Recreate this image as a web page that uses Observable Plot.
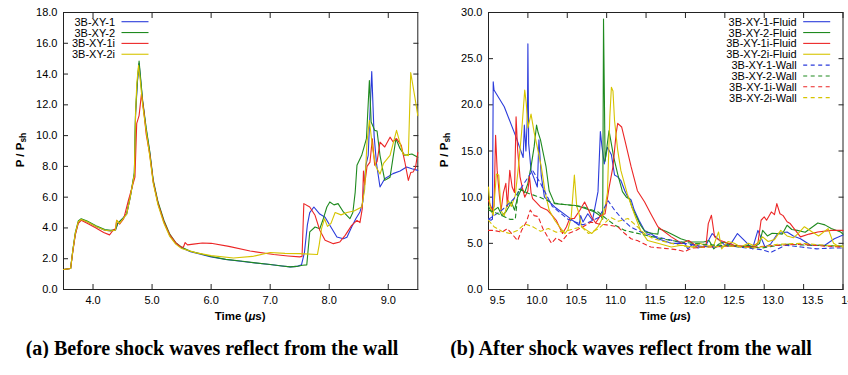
<!DOCTYPE html>
<html><head><meta charset="utf-8">
<script src="https://cdn.jsdelivr.net/npm/d3@7"></script>
<script src="https://cdn.jsdelivr.net/npm/@observablehq/plot@0.6"></script>
<style>
body{margin:0;background:#fff;}
#wrap{display:flex;width:848px;}
.panel{width:424px;position:relative;}
.cap{font-family:"Liberation Serif","Times New Roman",serif;font-weight:bold;font-size:20px;line-height:20px;text-align:center;margin-top:13px;white-space:nowrap;color:#000;}
</style></head><body>
<div id="wrap">
  <div class="panel"><div id="pa"></div><div class="cap">(a) Before shock waves reflect from the wall</div></div>
  <div class="panel"><div id="pb"></div><div class="cap" style="position:relative;left:-5px">(b) After shock waves reflect from the wall</div></div>
</div>
<script>
// ---------- Panel (a) ----------
const aXTicks = [4.0, 5.0, 6.0, 7.0, 8.0, 9.0];
const aYTicks = [0, 2, 4, 6, 8, 10, 12, 14, 16, 18];
const aNames = ["3B-XY-1", "3B-XY-2", "3B-XY-1i", "3B-XY-2i"];

const aT1 = [3.5,3.62,3.66,3.70,3.75,3.80,3.90,4.05,4.20,4.30,4.38,4.42,4.50,4.57,4.63,4.70,4.72,4.75,4.78,4.84,4.90,4.96,5.02,5.10,5.20,5.30,5.40,5.50,5.65,5.82,6.00,6.25,6.50,6.75,7.00,7.20,7.34,7.45,7.53,7.58,7.63,7.67,7.74,7.84,7.93,8.01,8.13,8.24,8.30,8.38,8.45,8.52,8.57,8.62,8.66,8.72,8.76,8.80,8.86,8.94,9.08,9.20,9.31,9.40,9.50];
const aV1 = [1.3,1.36,2.6,3.6,4.35,4.55,4.4,4.1,3.85,3.8,3.85,4.3,4.6,4.9,6.0,7.5,11.3,13.4,14.7,12.2,10.4,8.9,7.0,5.6,4.4,3.5,3.0,2.72,2.45,2.3,2.12,1.95,1.84,1.72,1.62,1.53,1.47,1.5,1.6,2.4,4.2,5.0,5.36,4.9,4.7,4.17,3.41,3.3,3.4,4.06,4.6,5.04,5.69,8.07,8.72,14.17,10.0,8.2,6.66,7.2,7.53,7.7,7.96,7.85,7.74];

const aT2 = [3.5,3.62,3.66,3.70,3.75,3.80,3.90,4.05,4.20,4.30,4.38,4.42,4.50,4.57,4.63,4.70,4.72,4.75,4.78,4.84,4.90,4.96,5.02,5.10,5.20,5.30,5.40,5.50,5.65,5.82,6.00,6.25,6.50,6.75,7.00,7.20,7.34,7.45,7.55,7.62,7.67,7.76,7.84,7.90,7.96,8.01,8.08,8.15,8.24,8.35,8.40,8.44,8.47,8.55,8.63,8.68,8.71,8.77,8.81,8.86,8.94,9.03,9.13,9.20,9.28,9.40,9.50];
const aV2 = [1.3,1.36,2.6,3.7,4.45,4.6,4.45,4.15,3.9,3.85,3.9,4.3,4.6,4.95,6.0,7.6,11.5,13.5,14.85,12.3,10.5,9.0,7.1,5.7,4.5,3.6,3.05,2.75,2.48,2.32,2.14,1.96,1.85,1.73,1.62,1.53,1.47,1.5,1.58,1.6,3.74,4.06,3.95,4.6,5.36,5.69,5.5,5.58,5.04,4.6,5.0,6.33,8.07,8.72,9.8,13.58,10.88,10.34,10.3,8.72,7.09,7.3,9.8,9.15,8.72,8.8,8.6];

const aT3 = [3.5,3.62,3.66,3.70,3.75,3.80,3.90,4.05,4.18,4.28,4.34,4.38,4.40,4.45,4.52,4.60,4.68,4.71,4.74,4.78,4.82,4.86,4.90,4.96,5.02,5.10,5.20,5.30,5.40,5.48,5.53,5.56,5.60,5.70,5.85,6.00,6.30,6.66,7.06,7.30,7.50,7.54,7.57,7.67,7.76,7.84,7.93,8.07,8.18,8.27,8.38,8.47,8.52,8.56,8.58,8.60,8.64,8.69,8.73,8.77,8.81,8.86,8.94,9.03,9.08,9.14,9.22,9.28,9.34,9.38,9.42,9.46,9.50];
const aV3 = [1.3,1.36,2.5,3.55,4.3,4.5,4.3,4.0,3.7,3.55,3.85,3.95,4.5,4.25,4.6,5.8,6.9,7.3,10.8,11.3,12.7,11.6,10.1,8.8,7.0,5.6,4.4,3.55,3.05,2.78,2.75,3.05,2.9,2.95,3.02,3.0,2.8,2.5,2.27,2.18,2.12,2.15,5.58,5.36,4.82,3.85,3.2,2.98,3.09,3.52,4.17,4.49,4.35,5.26,7.7,6.8,8.0,8.28,9.8,8.07,8.3,9.58,9.26,9.9,9.6,9.8,9.37,8.3,7.09,7.6,7.63,7.9,8.9];

const aT4 = [3.5,3.62,3.66,3.70,3.75,3.80,3.90,4.05,4.20,4.30,4.38,4.40,4.45,4.50,4.57,4.63,4.70,4.72,4.74,4.77,4.80,4.84,4.90,4.96,5.02,5.10,5.20,5.30,5.40,5.50,5.75,6.00,6.38,6.70,7.00,7.25,7.50,7.80,7.83,7.87,7.92,7.97,8.03,8.10,8.20,8.30,8.42,8.55,8.60,8.64,8.68,8.74,8.79,8.86,8.92,9.03,9.14,9.25,9.34,9.38,9.45,9.50];
const aV4 = [1.3,1.36,2.6,3.65,4.4,4.55,4.4,4.1,3.85,3.8,3.85,4.5,4.3,4.55,4.9,6.0,7.5,11.3,13.3,14.55,13.6,12.0,10.3,8.7,6.9,5.5,4.3,3.45,2.95,2.66,2.38,2.2,2.05,2.15,2.4,2.35,2.33,2.27,2.9,3.95,4.6,4.1,4.3,5.0,4.85,5.0,5.1,5.36,6.5,9.6,11.0,9.0,8.0,7.5,8.2,8.72,10.34,8.8,8.7,14.1,12.5,11.3];

// ---------- Panel (b) ----------
const bXTicks = [9.5, 10.0, 10.5, 11.0, 11.5, 12.0, 12.5, 13.0, 13.5, 14.0];
const bYTicks = [0, 5, 10, 15, 20, 25, 30];
const bNames = ["3B-XY-1-Fluid","3B-XY-2-Fluid","3B-XY-1i-Fluid","3B-XY-2i-Fluid","3B-XY-1-Wall","3B-XY-2-Wall","3B-XY-1i-Wall","3B-XY-2i-Wall"];

const bT1f = [9.5,9.53,9.55,9.56,9.57,9.70,9.85,9.94,9.955,9.975,9.995,10.0,10.01,10.04,10.12,10.14,10.17,10.21,10.34,10.51,10.65,10.67,10.70,10.76,10.82,10.89,10.92,10.94,10.97,11.01,11.06,11.10,11.14,11.18,11.23,11.27,11.31,11.35,11.41,11.48,11.56,11.65,11.82,11.99,12.03,12.09,12.16,12.26,12.34,12.41,12.50,12.58,12.66,12.76,12.85,12.92,13.01,13.08,13.17,13.29,13.37,13.46,13.59,13.77,13.89,14.0];
const bV1f = [7.6,7.5,7.6,22.5,21.6,19.8,16.5,14.3,17.8,15.0,19.0,26.6,15.8,12.9,11.1,16.2,12.3,10.0,8.94,7.86,6.96,8.0,7.3,8.2,7.5,10.6,17.1,15.5,13.6,15.4,14.6,12.4,12.2,11.8,10.7,10.0,9.7,8.6,7.5,6.4,6.06,5.5,5.0,5.0,4.4,4.9,4.5,4.8,6.06,5.5,4.8,5.0,6.06,5.2,4.4,6.4,4.6,4.9,6.06,6.23,5.8,5.5,4.8,4.8,5.5,5.9];

const bT2f = [9.5,9.54,9.62,9.67,9.72,9.76,9.79,9.83,9.87,9.92,9.96,10.0,10.04,10.08,10.11,10.13,10.16,10.23,10.27,10.34,10.46,10.61,10.72,10.85,10.93,10.95,10.96,10.98,11.03,11.09,11.14,11.2,11.25,11.29,11.32,11.36,11.43,11.49,11.59,11.65,11.66,11.75,11.81,11.94,12.07,12.23,12.3,12.36,12.42,12.49,12.6,12.7,12.8,12.87,12.94,12.98,13.04,13.1,13.16,13.23,13.29,13.35,13.42,13.52,13.68,13.77,13.85,13.97,14.0];
const bV2f = [9.0,8.4,8.9,8.0,8.4,9.0,9.5,8.6,10.0,10.9,10.5,11.5,13.3,15.5,17.8,17.0,16.2,13.3,10.7,9.3,9.2,9.1,8.8,8.4,7.9,7.6,29.3,13.9,17.2,14.3,12.5,10.6,10.0,9.8,8.94,8.2,6.96,6.23,6.06,6.0,6.6,6.3,6.06,5.5,5.15,5.15,5.3,4.4,4.9,5.15,4.7,4.6,4.8,4.6,4.97,6.4,5.8,6.1,6.06,6.0,6.96,6.5,6.4,6.2,7.2,7.0,6.6,6.23,6.0];

const bT3f = [9.5,9.52,9.55,9.57,9.59,9.61,9.64,9.66,9.69,9.72,9.74,9.77,9.80,9.83,9.85,9.87,9.90,9.93,9.96,10.0,10.02,10.04,10.06,10.10,10.16,10.25,10.31,10.36,10.40,10.44,10.49,10.53,10.59,10.66,10.72,10.77,10.81,10.86,10.92,10.98,11.03,11.08,11.12,11.14,11.19,11.23,11.31,11.39,11.48,11.56,11.65,11.82,11.95,12.04,12.11,12.19,12.26,12.29,12.33,12.37,12.42,12.48,12.62,12.83,12.92,12.96,13.0,13.03,13.09,13.13,13.16,13.2,13.24,13.29,13.33,13.46,13.57,13.68,13.85,14.0];
const bV3f = [9.66,9.2,8.6,9.0,16.7,12.9,10.0,8.58,10.5,11.5,9.0,12.9,11.1,10.5,18.7,15.1,12.2,11.0,10.0,10.7,12.3,10.5,9.84,9.48,8.94,8.58,8.0,7.5,6.78,6.06,6.8,7.68,7.7,8.58,9.48,8.6,7.86,7.2,8.0,8.2,11.0,13.3,16.9,18.0,17.6,16.2,13.3,10.7,9.5,8.2,6.8,5.7,5.0,5.3,4.9,4.6,4.7,7.14,8.04,5.7,5.4,5.2,4.79,4.6,5.0,7.5,7.86,7.5,8.4,8.1,9.3,8.2,8.0,7.33,7.14,5.7,6.0,6.23,6.4,6.4];

const bT4f = [9.5,9.52,9.56,9.6,9.63,9.66,9.70,9.75,9.79,9.84,9.88,9.92,9.96,9.98,10.0,10.04,10.08,10.12,10.17,10.22,10.27,10.34,10.40,10.47,10.51,10.55,10.59,10.62,10.65,10.68,10.75,10.81,10.89,10.94,10.98,11.01,11.04,11.06,11.08,11.1,11.14,11.18,11.26,11.35,11.43,11.52,11.65,11.82,11.95,12.09,12.18,12.28,12.36,12.42,12.46,12.54,12.62,12.7,12.8,12.88,12.98,13.05,13.13,13.21,13.29,13.37,13.43,13.51,13.61,13.69,13.81,13.88,13.94,14.0];
const bV4f = [11.1,9.0,8.0,12.5,12.4,8.5,8.0,9.66,9.0,10.2,13.3,17.0,21.6,20.1,17.5,19.0,17.0,15.4,13.3,10.5,8.6,7.5,6.8,6.06,6.5,7.86,12.4,9.0,8.2,6.8,6.4,6.06,6.8,7.6,8.9,10.5,18.7,21.9,21.5,18.3,15.1,12.9,10.4,8.2,6.4,5.3,5.0,4.6,4.8,4.6,5.0,4.7,4.8,6.23,4.4,5.2,5.0,4.6,5.0,4.7,5.7,5.2,5.4,6.4,5.8,5.6,6.06,6.8,6.23,5.8,6.6,5.0,4.7,4.6];

const bT1w = [9.5,9.57,9.67,9.82,9.96,10.06,10.16,10.31,10.51,10.7,10.9,11.02,11.1,11.2,11.3,11.44,11.59,11.79,11.99,12.18,12.38,12.58,12.78,12.98,13.08,13.27,13.47,13.67,13.87,14.0];
const bV1w = [7.6,8.0,8.6,9.8,11.6,12.9,11.5,9.0,7.6,7.0,7.8,9.6,8.6,7.6,6.8,6.2,5.8,5.4,5.0,4.7,4.6,4.7,4.5,4.3,4.0,4.8,4.6,4.4,4.5,4.5];

const bT2w = [9.5,9.62,9.77,9.84,9.88,10.01,10.15,10.31,10.46,10.68,10.89,10.99,11.1,11.23,11.43,11.59,11.82,12.09,12.38,12.68,12.98,13.27,13.57,14.0];
const bV2w = [8.6,8.2,7.6,7.6,10.9,10.4,10.0,9.4,9.2,9.0,8.4,7.7,7.0,6.4,6.0,5.7,5.3,5.0,4.8,4.7,4.5,4.9,4.8,4.7];

const bT3w = [9.5,9.57,9.67,9.74,9.82,9.87,9.92,9.98,10.03,10.08,10.13,10.19,10.25,10.30,10.36,10.43,10.51,10.61,10.7,10.8,10.9,11.0,11.14,11.23,11.31,11.39,11.56,11.69,11.9,11.99,12.09,12.28,12.58,12.88,13.17,13.47,13.77,14.0];
const bV3w = [6.4,6.4,6.2,6.6,5.8,5.3,6.4,7.3,8.6,8.0,7.9,6.6,5.7,5.0,5.6,5.2,6.06,6.4,6.8,7.3,7.1,7.0,6.8,6.06,5.5,5.3,4.6,4.5,4.3,4.1,4.5,4.6,4.7,4.6,4.8,4.9,4.7,4.6];

const bT4w = [9.5,9.57,9.67,9.77,9.87,9.96,10.06,10.16,10.26,10.36,10.51,10.68,10.77,10.9,11.05,11.15,11.27,11.39,11.48,11.59,11.82,12.04,12.28,12.58,12.88,13.17,13.47,13.77,14.0];
const bV4w = [7.5,6.8,6.3,6.06,6.4,7.1,6.8,6.3,6.6,6.2,6.4,6.8,6.06,6.6,7.8,7.4,7.7,6.8,6.06,5.5,5.0,4.6,4.6,4.7,4.5,4.9,5.0,4.8,4.7];

const colors = ["#2b3bdb", "#1f8a1f", "#ec2626", "#d6c400"];
const DASH = "4,3.5";
const FONT = "'Liberation Sans', Arial, sans-serif";

function makePanel({el, xDomain, yDomain, xTicks, yTicks, series, ml, mr, labelDx, legendRight, names}) {
  const W = 424, H = 325;
  const marks = [
    Plot.frame({stroke: "#222", strokeWidth: 1}),
    Plot.axisX({ticks: xTicks, tickSize: -5, tickFormat: () => "", label: null, stroke: "#222"}),
    Plot.axisX({anchor: "top", ticks: xTicks, tickSize: -5, tickFormat: () => "", label: null, stroke: "#222"}),
    Plot.axisX({ticks: xTicks, tickSize: 0, tickPadding: 7, dx: labelDx, tickFormat: d3.format(".1f"), label: null}),
    Plot.axisY({ticks: yTicks, tickSize: -5, tickFormat: () => "", label: null, stroke: "#222"}),
    Plot.axisY({anchor: "right", ticks: yTicks, tickSize: -5, tickFormat: () => "", label: null, stroke: "#222"}),
    Plot.axisY({ticks: yTicks, tickSize: 0, tickPadding: 6, tickFormat: d3.format(".1f"), label: null}),
    ...series.map(s => Plot.line(d3.zip(s.t, s.v), {x: d => d[0], y: d => d[1], stroke: s.color, strokeWidth: 1.1, strokeDasharray: s.dash || null}))
  ];
  const svgEl = Plot.plot({
    width: W, height: H,
    marginLeft: ml, marginRight: mr, marginTop: 12, marginBottom: 36,
    x: {domain: xDomain}, y: {domain: yDomain},
    style: {fontFamily: FONT, fontSize: "11px", overflow: "visible", background: "white", color: "#000"},
    marks
  });
  const svg = d3.select(svgEl);
  const cx = (ml + W - mr) / 2;
  const tx = svg.append("text").attr("x", cx).attr("y", 316).attr("text-anchor", "middle")
    .attr("dominant-baseline", "central").attr("font-family", FONT).attr("font-size", 11.5).attr("font-weight", "bold");
  tx.append("tspan").text("Time (");
  tx.append("tspan").attr("font-style", "italic").text("μ");
  tx.append("tspan").text("s)");
  const ty = svg.append("text").attr("transform", "translate(20,150) rotate(-90)").attr("text-anchor", "middle")
    .attr("dominant-baseline", "central").attr("font-family", FONT).attr("font-size", 11.5).attr("font-weight", "bold");
  ty.append("tspan").text("P / P");
  ty.append("tspan").attr("font-size", 8.5).attr("dy", 3).text("sh");
  const lg = svg.append("g").attr("font-family", FONT).attr("font-size", 11);
  names.forEach((n, i) => {
    const y = 21.7 + i * 10.85;
    lg.append("text").attr("x", legendRight).attr("y", y).attr("text-anchor", "end").attr("dominant-baseline", "central").text(n);
    lg.append("line").attr("x1", legendRight + 6.5).attr("x2", legendRight + 33.5).attr("y1", y).attr("y2", y)
      .attr("stroke", series[i].color).attr("stroke-width", 1.1).attr("stroke-dasharray", series[i].dash || null);
  });
  document.getElementById(el).appendChild(svgEl);
}

makePanel({
  el: "pa", xDomain: [3.5, 9.5], yDomain: [0, 18], xTicks: aXTicks, yTicks: aYTicks,
  ml: 63, mr: 6.7, labelDx: 0, legendRight: 115, names: aNames,
  series: [
    {t: aT1, v: aV1, color: colors[0]},
    {t: aT2, v: aV2, color: colors[1]},
    {t: aT3, v: aV3, color: colors[2]},
    {t: aT4, v: aV4, color: colors[3]}
  ]
});
makePanel({
  el: "pb", xDomain: [9.5, 14.0], yDomain: [0, 30], xTicks: bXTicks, yTicks: bYTicks,
  ml: 64, mr: 5.5, labelDx: 9, legendRight: 372.7, names: bNames,
  series: [
    {t: bT1f, v: bV1f, color: colors[0]},
    {t: bT2f, v: bV2f, color: colors[1]},
    {t: bT3f, v: bV3f, color: colors[2]},
    {t: bT4f, v: bV4f, color: colors[3]},
    {t: bT1w, v: bV1w, color: colors[0], dash: DASH},
    {t: bT2w, v: bV2w, color: colors[1], dash: DASH},
    {t: bT3w, v: bV3w, color: colors[2], dash: DASH},
    {t: bT4w, v: bV4w, color: colors[3], dash: DASH}
  ]
});
</script>
</body></html>
